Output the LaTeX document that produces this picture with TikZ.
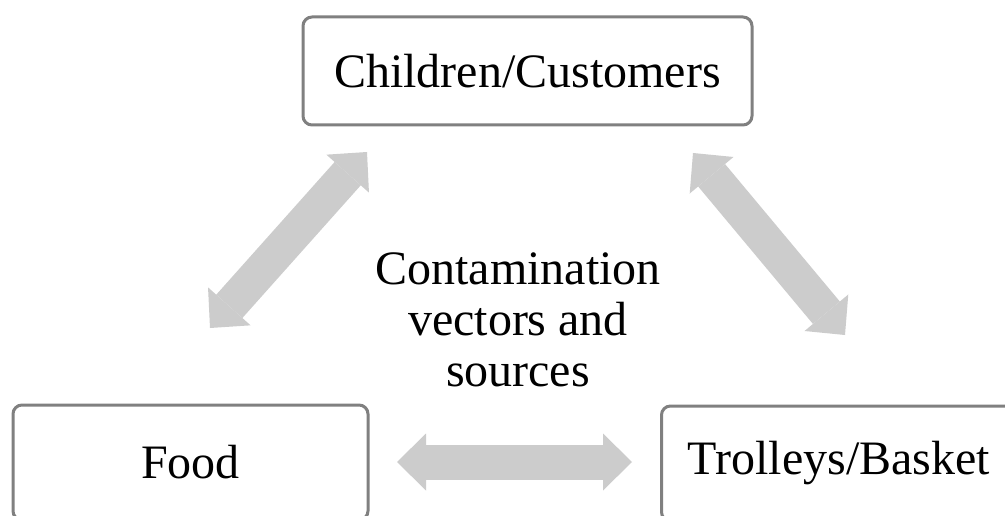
\documentclass[tikz,border=0pt]{standalone}
\usepackage{fontspec}
\setmainfont{Liberation Serif}
\usetikzlibrary{arrows.meta}

\begin{document}
\begin{tikzpicture}[x=1pt,y=-1pt,line join=round,>={Triangle[width=57pt,length=29pt,line width=0pt]},
	font=\fontsize{48}{51}\selectfont,
	box/.style={draw=gray,line width=3pt,rounded corners=9pt,fill=white,inner sep=0pt},
	link/.style={draw=gray!40,line width=35pt,<->}]
	\path[use as bounding box,fill=white] (0,0) rectangle (1005,516);
	% Kaesten
	\node[box,minimum width=449pt,minimum height=108pt] (cust) at (527.5,71) {Children/Customers};
	\node[box,minimum width=355pt,minimum height=115pt] (food) at (190.5,462.5) {Food};
	\node[box,minimum width=355pt,minimum height=115pt] (trolley) at (839,463.5) {Trolleys/Basket};
	% Mitte
	\node[align=center] (vec) at (518,320) {Contamination\\vectors and\\sources};
	% Pfeilenden
	\coordinate (cf1) at (367,152);
	\coordinate (cf2) at (210,328);
	\coordinate (ct1) at (693,153);
	\coordinate (ct2) at (845,335);
	\coordinate (ft1) at (397,462);
	\coordinate (ft2) at (632,462);
	% Pfeile
	\draw[link] (cf1) -- (cf2);
	\draw[link] (ct1) -- (ct2);
	\draw[link] (ft1) -- (ft2);
\end{tikzpicture}
\end{document}
